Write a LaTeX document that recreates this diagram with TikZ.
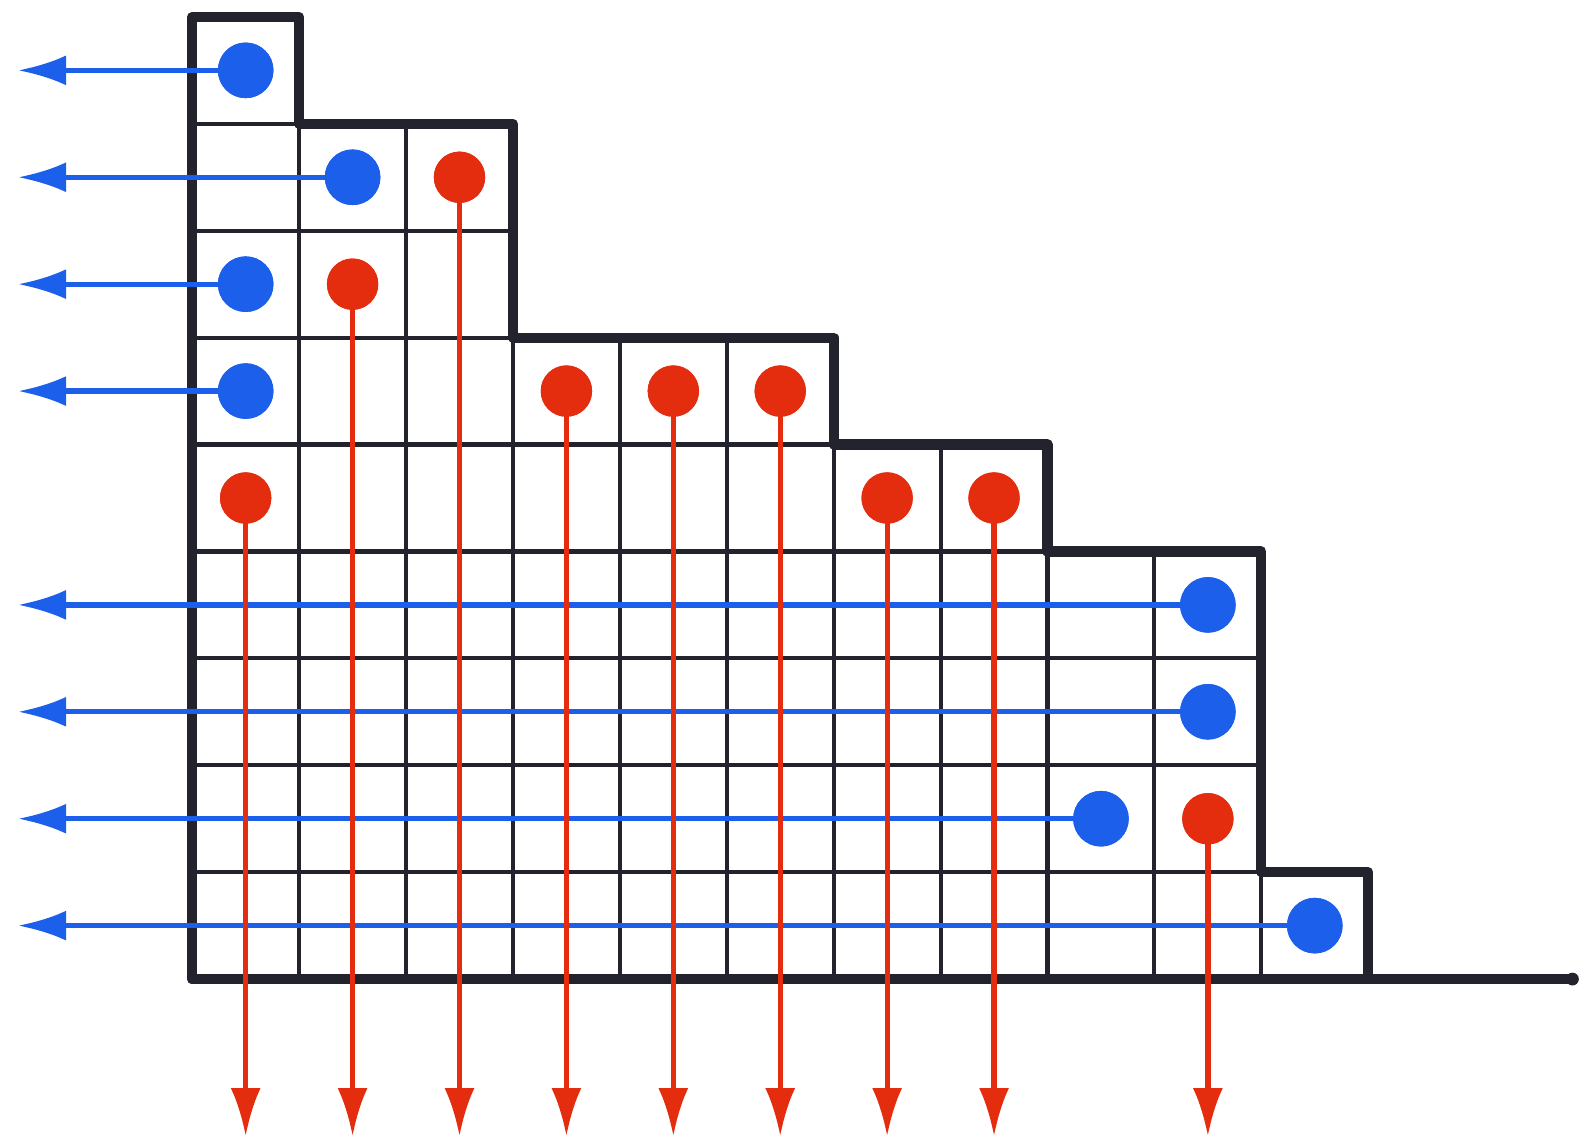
\documentclass[tikz,border=0pt]{standalone}
\usepackage{tikz}
\usetikzlibrary{arrows.meta,positioning,calc}
\definecolor{inkcolor}{RGB}{35,35,45}
\definecolor{bluepen}{RGB}{28,95,235}
\definecolor{redpen}{RGB}{228,45,15}

\begin{document}
\begin{tikzpicture}[
    x=1cm, y=1cm,
    cell/.style={draw=inkcolor, line width=1.1pt},
    outline/.style={draw=inkcolor, line width=2.7pt, line join=round, line cap=round},
    bdot/.style={circle, fill=bluepen, inner sep=0pt, minimum size=0.52cm},
    rdot/.style={circle, fill=redpen, inner sep=0pt, minimum size=0.48cm},
    barrow/.style={-{Latex[length=4.5mm, width=2.8mm]}, color=bluepen, line width=1.4pt},
    rarrow/.style={-{Latex[length=4.5mm, width=2.8mm]}, color=redpen, line width=1.4pt}
]
    \useasboundingbox (-1.798,-1.542) rectangle (13.037,9.158);

    \foreach \r/\len in {1/1, 2/3, 3/3, 4/6, 5/8, 6/10, 7/10, 8/10, 9/11}
        \foreach \c in {1,...,\len}
            \draw[cell] (\c-1, 9-\r) rectangle (\c, 10-\r);

    \draw[outline] (0,0) -- (0,9) -- (1,9) -- (1,8) -- (3,8) -- (3,6) -- (6,6) -- (6,5)
        -- (8,5) -- (8,4) -- (10,4) -- (10,1) -- (11,1) -- (11,0);
    \coordinate (origin) at (0,0);
    \coordinate (axisend) at (12.91,0);
    \draw[outline] (origin) -- (axisend);
    \fill[inkcolor] (axisend) circle (0.06);

    \node[bdot] (b1) at (0.5,8.5) {};
    \node[bdot] (b2) at (1.5,7.5) {};
    \node[bdot] (b3) at (0.5,6.5) {};
    \node[bdot] (b4) at (0.5,5.5) {};
    \node[bdot] (b6) at (9.5,3.5) {};
    \node[bdot] (b7) at (9.5,2.5) {};
    \node[bdot] (b8) at (8.5,1.5) {};
    \node[bdot] (b9) at (10.5,0.5) {};

    \node[rdot] (r3) at (2.5,7.5) {};
    \node[rdot] (r2) at (1.5,6.5) {};
    \node[rdot] (r4) at (3.5,5.5) {};
    \node[rdot] (r5) at (4.5,5.5) {};
    \node[rdot] (r6) at (5.5,5.5) {};
    \node[rdot] (r1) at (0.5,4.5) {};
    \node[rdot] (r7) at (6.5,4.5) {};
    \node[rdot] (r8) at (7.5,4.5) {};
    \node[rdot] (r10) at (9.5,1.5) {};

    \foreach \b in {b1,b2,b3,b4,b6,b7,b8,b9} {
        \coordinate (\b e) at (-1.63,0 |- \b.center);
        \draw[barrow] (\b.center) -- (\b e);
    }
    \foreach \q in {r1,r2,r3,r4,r5,r6,r7,r8,r10} {
        \coordinate (\q e) at (\q.center |- 0,-1.47);
        \draw[rarrow] (\q.center) -- (\q e);
    }

    \foreach \b in {b1,b2,b3,b4,b6,b7,b8,b9}
        \fill[bluepen] (\b) circle (0.26);
    \foreach \q in {r1,r2,r3,r4,r5,r6,r7,r8,r10}
        \fill[redpen] (\q) circle (0.24);
\end{tikzpicture}
\end{document}
